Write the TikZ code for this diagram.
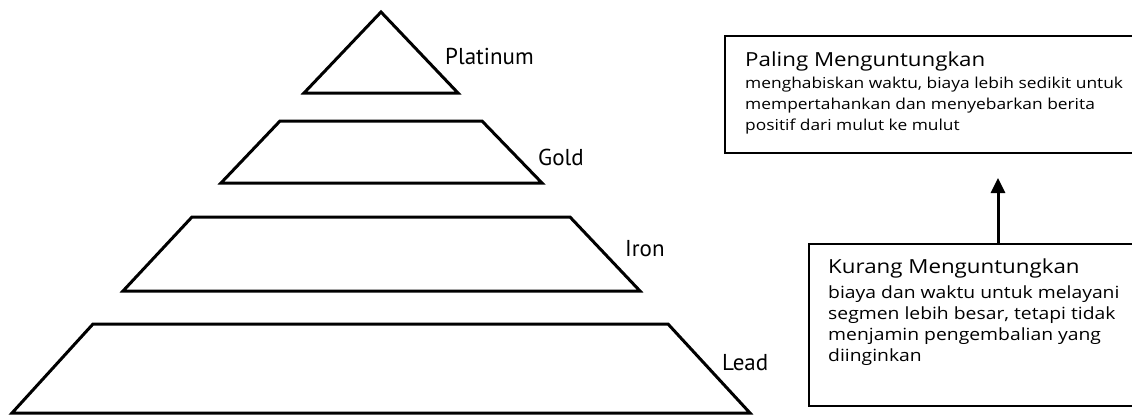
\documentclass[tikz,border=0pt]{standalone}
\usepackage{fontspec}
\setmainfont{Open Sans}[FakeStretch=1.15]
\newfontfamily\labelfont{PT Sans}
\usetikzlibrary{arrows.meta}
\begin{document}
\begin{tikzpicture}[x=1pt,y=-1pt,
  tier/.style={line width=3pt, line join=miter, draw=black},
  tierlabel/.style={anchor=base west, inner sep=0pt, font=\labelfont\fontsize{23}{27}\selectfont},
  infobox/.style={draw=black, line width=1.8pt, anchor=north west, inner sep=0pt, minimum width=#1},
  boxtitle/.style={anchor=base west, inner sep=0pt, font=\fontsize{19.4}{24}\selectfont},
  boxbody/.style={anchor=base west, inner sep=0pt, align=left, font=\fontsize{#1}{20.8}\selectfont}
]
\useasboundingbox (0,0) rectangle (1132,416);
\clip (0,0) rectangle (1132,416);
% pyramid tiers
\draw[tier] (381,12) -- (458,93) -- (304,93) -- cycle;
\draw[tier] (280,121) -- (482,121) -- (542,183) -- (221,183) -- cycle;
\draw[tier] (192,217) -- (570,217) -- (640,291) -- (123,291) -- cycle;
\draw[tier] (93,324) -- (668,324) -- (750,413) -- (12,413) -- cycle;
% tier labels
\node[tierlabel] (lplat) at (445,64) {Platinum};
\node[tierlabel] (lgold) at (538,165) {Gold};
\node[tierlabel] (liron) at (625,256) {Iron};
\node[tierlabel] (llead) at (722,370) {Lead};
% boxes
\node[infobox=440pt, minimum height=117pt] (topbox) at (724,35) {};
\node[infobox=360pt, minimum height=162pt] (botbox) at (808,243) {};
\node[boxtitle] (toptitle) at (745,66) {Paling Menguntungkan};
\node[boxbody=15.1] (topbody) at (745,130) {menghabiskan waktu, biaya lebih sedikit untuk\\mempertahankan dan menyebarkan berita\\positif dari mulut ke mulut};
\node[boxtitle] (bottitle) at (828,273) {Kurang Menguntungkan};
\node[boxbody=16.8] (botbody) at (828,361) {biaya dan waktu untuk melayani\\segmen lebih besar, tetapi tidak\\menjamin pengembalian yang\\diinginkan};
% arrow
\coordinate (arrowtip) at (998,178);
\draw[line width=3pt, -{Triangle[length=15pt,width=14pt]}] (botbox.north west -| arrowtip) -- (arrowtip);
\end{tikzpicture}
\end{document}
